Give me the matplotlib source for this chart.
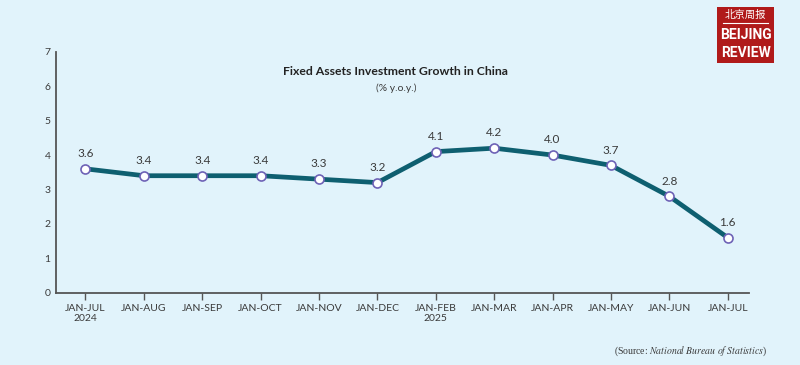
import matplotlib.pyplot as plt
from matplotlib.patches import Rectangle

periods = ['JAN-JUL\n2024', 'JAN-AUG', 'JAN-SEP', 'JAN-OCT', 'JAN-NOV', 'JAN-DEC',
           'JAN-FEB\n2025', 'JAN-MAR', 'JAN-APR', 'JAN-MAY', 'JAN-JUN', 'JAN-JUL']
growth = [3.6, 3.4, 3.4, 3.4, 3.3, 3.2, 4.1, 4.2, 4.0, 3.7, 2.8, 1.6]
yticks = [0, 1, 2, 3, 4, 5, 6, 7]

bg = '#e1f3fb'
line_col = '#0e5f70'
text_col = '#3a3a3a'

plt.rcParams['font.family'] = ['Lato', 'DejaVu Sans']
plt.rcParams['mathtext.fontset'] = 'stix'

fig = plt.figure(figsize=(8, 3.65), dpi=100, facecolor=bg)
ax = fig.add_axes([0.07, 0.198, 0.866, 0.66])
ax.set_facecolor(bg)

x = list(range(len(growth)))
ax.plot(x, growth, color=line_col, lw=3.4, zorder=2, solid_joinstyle='round')
ax.plot(x, growth, 'o', ms=6.5, mfc='white', mec='#6e62b6', mew=1.2, zorder=3)
for xi, v in zip(x, growth):
    ax.annotate(f'{v:.1f}', (xi, v), xytext=(0, 7), textcoords='offset points',
                ha='center', va='bottom', fontsize=8.5, color=text_col)

ax.set_xlim(-0.505, 11.36)
ax.set_ylim(0, 7)
ax.set_xticks(x)
ax.set_xticklabels(periods, fontsize=7.5, color=text_col, linespacing=1.1)
ax.set_yticks(yticks)
ax.set_yticklabels([str(t) for t in yticks], fontsize=7.5, color=text_col)
ax.tick_params(axis='x', length=5, width=1, color='#555555', pad=3)
ax.tick_params(axis='y', length=0, pad=4)
for s in ['top', 'right']:
    ax.spines[s].set_visible(False)
for s in ['left', 'bottom']:
    ax.spines[s].set_color('#555555')
    ax.spines[s].set_linewidth(1.3)

fig.text(0.494, 0.805, 'Fixed Assets Investment Growth in China', ha='center',
         va='center', fontsize=8.8, fontweight='bold', color='#222222')
fig.text(0.495, 0.758, '(% y.o.y.)', ha='center', va='center', fontsize=7.5,
         color=text_col)

fig.text(0.959, 0.038, '(Source: $\\mathit{National\\ Bureau\\ of\\ Statistics}$)',
         ha='right', va='center', fontsize=7, color=text_col,
         family='Liberation Serif')

# logo
fig.patches.append(Rectangle((0.896, 0.827), 0.072, 0.153, transform=fig.transFigure,
                             facecolor='#b01a1a', edgecolor='none'))
fig.text(0.932, 0.958, '北京周报', ha='center', va='center', fontsize=7.5,
         color='white', family=['Noto Sans CJK SC'])
fig.lines.append(plt.Line2D([0.904, 0.960], [0.937, 0.937], transform=fig.transFigure,
                            color='white', lw=0.8))
fig.text(0.932, 0.905, 'BEIJING', ha='center', va='center', fontsize=10,
         fontweight='bold', color='white', family=['Liberation Sans Narrow', 'Roboto'])
fig.text(0.932, 0.856, 'REVIEW', ha='center', va='center', fontsize=10,
         fontweight='bold', color='white', family=['Liberation Sans Narrow', 'Roboto'])

fig.savefig('out.png', dpi=100, facecolor=bg)
